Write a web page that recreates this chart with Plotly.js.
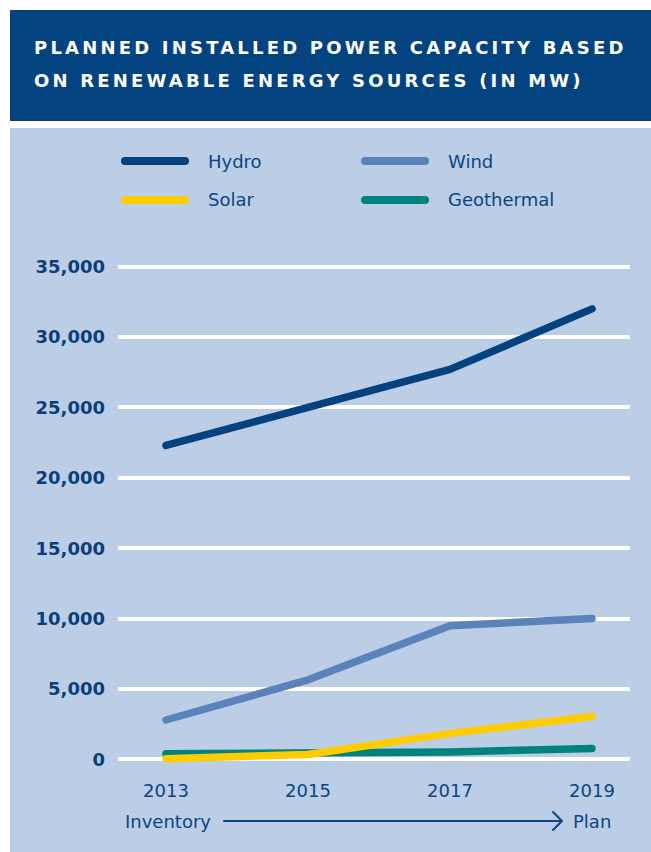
<!DOCTYPE html>
<html>
<head>
<meta charset="utf-8">
<script src="https://cdn.plot.ly/plotly-3.0.1.min.js"></script>
<style>
  html, body { margin: 0; padding: 0; background: #ffffff; }
  #chart { width: 651px; height: 852px; }
  .js-line { stroke-linecap: round; stroke-linejoin: round; }
  .shapelayer path { stroke-linecap: round; stroke-linejoin: round; }
  .annotation[data-index="0"] text, .annotation[data-index="1"] text { letter-spacing: 3.2px; }
</style>
</head>
<body>
<div id="chart"></div>
<script>
// ---- data ----
const years = [2013, 2015, 2017, 2019];
const hydro = [22300, 25000, 27700, 32000];
const wind = [2800, 5650, 9500, 10000];
const solar = [50, 350, 1850, 3050];
const geothermal = [400, 480, 520, 780];
const seriesNames = ['Hydro', 'Wind', 'Solar', 'Geothermal'];
const yTickVals = [0, 5000, 10000, 15000, 20000, 25000, 30000, 35000];
const yTickText = ['0', '5,000', '10,000', '15,000', '20,000', '25,000', '30,000', '35,000'];
const xTickText = ['2013', '2015', '2017', '2019'];
const titleLines = ['PLANNED INSTALLED POWER CAPACITY BASED', 'ON RENEWABLE ENERGY SOURCES (IN MW)'];
const axisStart = 'Inventory';
const axisEnd = 'Plan';

// ---- styles ----
const colors = { Hydro: '#03427f', Wind: '#5b83ba', Solar: '#ffcc00', Geothermal: '#00837c' };
const textColor = '#0b4583';
const W = 651, H = 852;
const M = { l: 118, r: 21, t: 258, b: 84 };
const plotW = W - M.l - M.r, plotH = H - M.t - M.b;
const px2x = p => (p - M.l) / plotW;
const px2y = p => (H - M.b - p) / plotH;

const valuesByName = { Hydro: hydro, Wind: wind, Solar: solar, Geothermal: geothermal };
const drawOrder = ['Geothermal', 'Solar', 'Wind', 'Hydro'];
const traces = drawOrder.map(n => ({
  type: 'scatter', mode: 'lines', name: n,
  x: years, y: valuesByName[n],
  line: { color: colors[n], width: 7.5 },
  showlegend: false, hoverinfo: 'skip'
}));

const shapes = [
  { type: 'rect', xref: 'paper', yref: 'paper', layer: 'below',
    x0: px2x(10), x1: px2x(651), y0: px2y(10), y1: px2y(121),
    fillcolor: '#03437f', line: { width: 0 } },
  { type: 'rect', xref: 'paper', yref: 'paper', layer: 'below',
    x0: px2x(10), x1: px2x(651), y0: px2y(128), y1: px2y(852),
    fillcolor: '#bccde6', line: { width: 0 } },
];
const annotations = [
  { text: titleLines[0], xref: 'paper', yref: 'paper', x: px2x(32), y: px2y(48),
    xanchor: 'left', yanchor: 'middle', align: 'left', showarrow: false,
    font: { family: 'DejaVu Sans', size: 18, color: '#ffffff', weight: 'bold' } },
  { text: titleLines[1], xref: 'paper', yref: 'paper', x: px2x(32), y: px2y(81),
    xanchor: 'left', yanchor: 'middle', align: 'left', showarrow: false,
    font: { family: 'DejaVu Sans', size: 18, color: '#ffffff', weight: 'bold' } },
];

// legend (2 x 2)
const legendPos = [
  { n: 'Hydro', lx: 125, tx: 206, y: 161 },
  { n: 'Wind', lx: 365, tx: 446, y: 161 },
  { n: 'Solar', lx: 125, tx: 206, y: 200 },
  { n: 'Geothermal', lx: 365, tx: 446, y: 200 },
];
legendPos.forEach(p => {
  shapes.push({ type: 'line', xref: 'paper', yref: 'paper', layer: 'above',
    x0: px2x(p.lx), x1: px2x(p.lx + 60), y0: px2y(p.y), y1: px2y(p.y),
    line: { color: colors[p.n], width: 8 } });
  annotations.push({ text: p.n, xref: 'paper', yref: 'paper', x: px2x(p.tx), y: px2y(p.y),
    xanchor: 'left', yanchor: 'middle', showarrow: false,
    font: { family: 'DejaVu Sans', size: 18, color: textColor } });
});

// Inventory -> Plan
annotations.push({ text: axisStart, xref: 'paper', yref: 'paper', x: px2x(123), y: px2y(821),
  xanchor: 'left', yanchor: 'middle', showarrow: false,
  font: { family: 'DejaVu Sans', size: 18, color: textColor } });
annotations.push({ text: axisEnd, xref: 'paper', yref: 'paper', x: px2x(571), y: px2y(821),
  xanchor: 'left', yanchor: 'middle', showarrow: false,
  font: { family: 'DejaVu Sans', size: 18, color: textColor } });
shapes.push({ type: 'line', xref: 'paper', yref: 'paper', layer: 'above',
  x0: px2x(224), x1: px2x(561), y0: px2y(821), y1: px2y(821),
  line: { color: textColor, width: 2 } });
shapes.push({ type: 'path', xref: 'paper', yref: 'paper', layer: 'above',
  path: 'M' + px2x(553) + ',' + px2y(812) + ' L' + px2x(562) + ',' + px2y(821) + ' L' + px2x(553) + ',' + px2y(830),
  line: { color: textColor, width: 2 } });

const layout = {
  width: W, height: H,
  margin: M,
  paper_bgcolor: '#ffffff',
  plot_bgcolor: 'rgba(0,0,0,0)',
  showlegend: false,
  xaxis: {
    range: [2012.324, 2019.535], showgrid: false, zeroline: false, showline: false,
    tickvals: years, ticktext: xTickText, ticks: '', ticklabelstandoff: 10,
    tickfont: { family: 'DejaVu Sans', size: 18, color: textColor },
    automargin: false, fixedrange: true
  },
  yaxis: {
    range: [-610, 35610], showgrid: true, gridcolor: '#ffffff', gridwidth: 4,
    zeroline: false, showline: false,
    tickvals: yTickVals, ticktext: yTickText, ticks: '', ticklabelstandoff: 12,
    tickfont: { family: 'DejaVu Sans', size: 18, color: '#0a3f7a', weight: 'bold' },
    automargin: false, fixedrange: true
  },
  shapes: shapes,
  annotations: annotations
};

Plotly.newPlot('chart', traces, layout, { staticPlot: true, displayModeBar: false });
</script>
</body>
</html>
